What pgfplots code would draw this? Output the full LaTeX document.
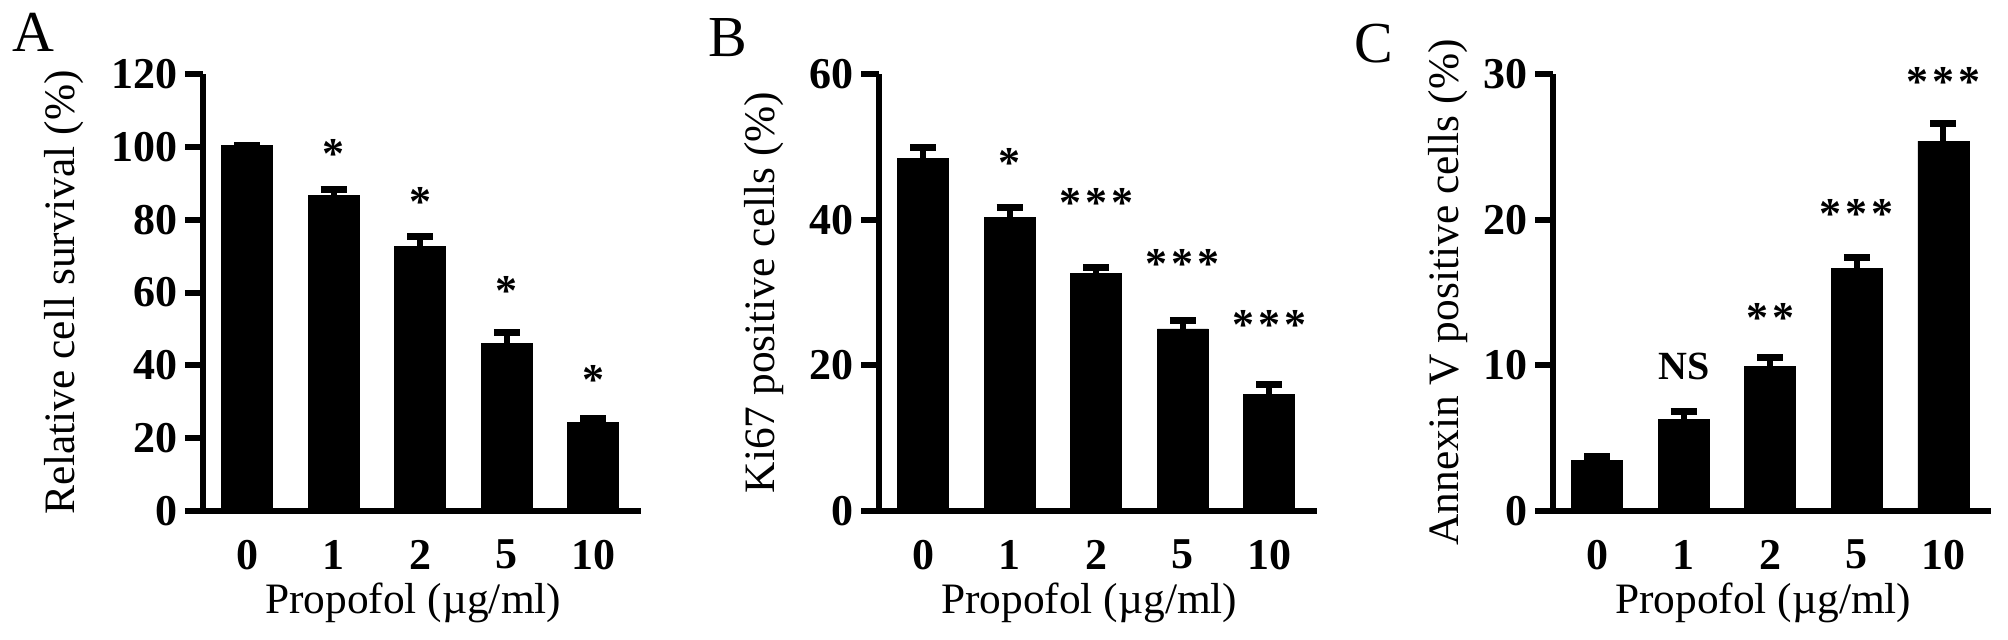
\documentclass[border=0pt]{standalone}
\usepackage{pgfplots}
\pgfplotsset{compat=1.18}
\usepackage{fontspec}
\setmainfont{Liberation Serif}

\pgfplotstableread{
x y e
0 100.3 0
1 86.6 1.6
2 72.6 2.9
3 46.1 3.0
4 24.2 1.3
}\dataA
\pgfplotstableread{
x y e
0 48.4 1.5
1 40.3 1.4
2 32.6 0.9
3 25.0 1.1
4 16.0 1.4
}\dataB
\pgfplotstableread{
x y e
0 3.45 0.3
1 6.3 0.55
2 9.9 0.65
3 16.67 0.75
4 25.4 1.2
}\dataC

\newcommand{\twostars}{*\kern2pt*}
\newcommand{\threestars}{*\kern2pt*\kern2pt*}
\tikzset{
  star/.style={font=\fontsize{22}{24}\selectfont\bfseries, anchor=north, inner sep=0pt},
}
\pgfplotsset{
  panel/.style={
    scale only axis, width=219pt, height=218.5pt,
    xmin=-0.51, xmax=4.55, ymin=0,
    axis x line*=bottom, axis y line*=left,
    axis line style={line width=3pt, -},
    x axis line style={shorten <=-9pt},
    xtick={0,1,2,3,4}, xticklabels={0,1,2,5,10},
    xtick style={draw=none},
    ytick align=outside,
    major tick length=9pt,
    ytick style={line width=3pt, black},
    /pgf/number format/assume math mode=true,
    tick label style={font=\fontsize{22}{24}\selectfont\bfseries},
    xticklabel style={yshift=-2pt},
    label style={font=\fontsize{21.7}{24}\selectfont},
    xlabel={Propofol (µg/ml)},
    xlabel style={at={(axis description cs:0.48,0)}, anchor=center, yshift=-46pt},
    clip=false,
    ybar, bar width=25.5pt,
    error bars/y dir=plus, error bars/y explicit,
    error bars/error bar style={line width=3pt, black},
    error bars/error mark options={rotate=90, mark size=6.5pt, line width=3.5pt, black},
  },
}

\begin{document}
\begin{tikzpicture}
\path[use as bounding box] (0,0) rectangle (1004pt,319.5pt);

% Panel A
\begin{axis}[panel, at={(101.5pt,64pt)}, anchor=south west,
  ymax=120, ytick={0,20,40,60,80,100,120},
  ylabel={Relative cell survival (\%)},
  ylabel style={at={(axis description cs:-0.317,0.5)}, anchor=center}]
\addplot[fill=black, draw=black] table[x=x, y=y, y error=e] {\dataA};
\node[star] at (axis cs:1,102) {*};
\node[star] at (axis cs:2,89) {*};
\node[star] at (axis cs:3,64.4) {*};
\node[star] at (axis cs:4,40.2) {*};
\end{axis}

% Panel B
\begin{axis}[panel, at={(439.5pt,64pt)}, anchor=south west,
  ymax=60, ytick={0,20,40,60},
  ylabel={Ki67 positive cells (\%)},
  ylabel style={at={(axis description cs:-0.263,0.5)}, anchor=center}]
\addplot[fill=black, draw=black] table[x=x, y=y, y error=e] {\dataB};
\node[star] at (axis cs:1,49.8) {*};
\node[star] at (axis cs:2,44.4) {\threestars};
\node[star] at (axis cs:3,36.0) {\threestars};
\node[star] at (axis cs:4,27.6) {\threestars};
\end{axis}

% Panel C
\begin{axis}[panel, at={(776.5pt,64pt)}, anchor=south west,
  ymax=30, ytick={0,10,20,30},
  ylabel={Annexin V positive cells (\%)},
  ylabel style={at={(axis description cs:-0.240,0.5)}, anchor=center}]
\addplot[fill=black, draw=black] table[x=x, y=y, y error=e] {\dataC};
\node[font=\fontsize{20}{24}\selectfont\bfseries, anchor=north, inner sep=0pt] at (axis cs:1,10.9) {NS};
\node[star] at (axis cs:2,14.3) {\twostars};
\node[star] at (axis cs:3,21.4) {\threestars};
\node[star] at (axis cs:4,30.5) {\threestars};
\end{axis}

\node[font=\fontsize{29}{32}\selectfont, anchor=north west, inner sep=0pt] at (6pt,313pt) {A};
\node[font=\fontsize{29}{32}\selectfont, anchor=north west, inner sep=0pt] at (354pt,310.5pt) {B};
\node[font=\fontsize{29}{32}\selectfont, anchor=north west, inner sep=0pt] at (677pt,307.5pt) {C};
\end{tikzpicture}
\end{document}
